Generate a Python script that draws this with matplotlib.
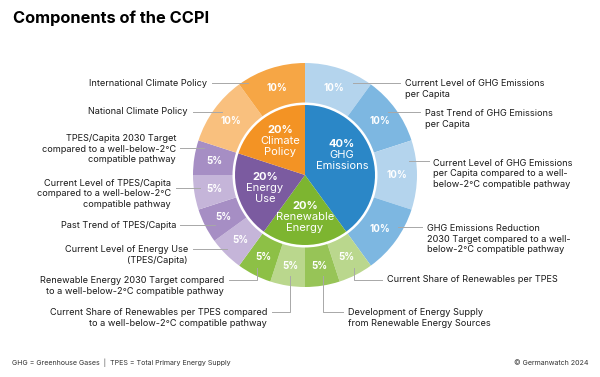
import numpy as np
import matplotlib.pyplot as plt

plt.rcParams['font.family'] = ['Inter', 'DejaVu Sans']

title = 'Components of the CCPI'

categories = ['GHG\nEmissions', 'Renewable\nEnergy', 'Energy\nUse', 'Climate\nPolicy']
category_shares = [40, 20, 20, 20]
category_colors = ['#2B87C7', '#7DB530', '#7B5BA0', '#F39324']

indicators = [
    'Current Level of GHG Emissions\nper Capita',
    'Past Trend of GHG Emissions\nper Capita',
    'Current Level of GHG Emissions\nper Capita compared to a well-\nbelow-2°C compatible pathway',
    'GHG Emissions Reduction\n2030 Target compared to a well-\nbelow-2°C compatible pathway',
    'Current Share of Renewables per TPES',
    'Development of Energy Supply\nfrom Renewable Energy Sources',
    'Current Share of Renewables per TPES compared\nto a well-below-2°C compatible pathway',
    'Renewable Energy 2030 Target compared\nto a well-below-2°C compatible pathway',
    'Current Level of Energy Use\n(TPES/Capita)',
    'Past Trend of TPES/Capita',
    'Current Level of TPES/Capita\ncompared to a well-below-2°C\ncompatible pathway',
    'TPES/Capita 2030 Target\ncompared to a well-below-2°C\ncompatible pathway',
    'National Climate Policy',
    'International Climate Policy',
]
indicator_shares = [10, 10, 10, 10, 5, 5, 5, 5, 5, 5, 5, 5, 10, 10]
indicator_colors = ['#B4D4ED', '#7DB7E1', '#B4D4ED', '#7DB7E1',
                    '#BAD78D', '#97C457', '#BAD78D', '#8DC046',
                    '#C5B5D9', '#A68EC4', '#C5B5D9', '#A68EC4',
                    '#F9C07E', '#F6A645']

footnote = 'GHG = Greenhouse Gases  |  TPES = Total Primary Energy Supply'
credit = '© Germanwatch 2024'

# layout in image pixels (y from top): text x, first line y, alignment, leader polyline
W, H = 600, 377
CX, CY = 305, 175
R_OUT, R_IN = 112, 70
label_layout = [
    (405, 83, 'left', [(353, 83), (400, 83)]),
    (425, 113, 'left', [(388, 112), (420, 112)]),
    (433, 162, 'left', [(409, 161), (429, 161)]),
    (427, 227, 'left', [(398, 227), (422, 227)]),
    (387, 280, 'left', [(354, 268), (354, 280), (382, 280)]),
    (348, 312, 'left', [(323, 276), (323, 312), (343, 312)]),
    (267, 312, 'right', [(290, 276), (290, 312), (272, 312)]),
    (224, 280, 'right', [(257, 268), (257, 280), (229, 280)]),
    (188, 249, 'right', [(227, 249), (193, 249)]),
    (176, 225, 'right', [(215, 225), (180, 225)]),
    (171, 182, 'right', [(200, 188), (176, 188)]),
    (176, 137, 'right', [(204, 148), (180, 148)]),
    (188, 112, 'right', [(222, 112), (193, 112)]),
    (207, 83, 'right', [(248, 83), (212, 83)]),
]


def Y(y):
    return H - y


fig = plt.figure(figsize=(6, 3.77), dpi=100)
ax = fig.add_axes([0, 0, 1, 1])

ax.pie(indicator_shares, colors=indicator_colors, radius=R_OUT, center=(CX, Y(CY)),
       startangle=90, counterclock=False,
       wedgeprops=dict(width=R_OUT - R_IN - 2.5, edgecolor='none'))
ax.pie(category_shares, colors=category_colors, radius=R_IN, center=(CX, Y(CY)),
       startangle=90, counterclock=False,
       wedgeprops=dict(edgecolor='none'))

# percentage labels in outer ring
cum = np.cumsum([0] + indicator_shares)
for i, v in enumerate(indicator_shares):
    mid = np.deg2rad((cum[i] + v / 2) * 3.6)
    r = 92
    ax.text(CX + r * np.sin(mid), Y(CY) + r * np.cos(mid), f'{v}%',
            ha='center', va='center', color='white', fontsize=7, fontweight='bold')

# category labels in inner pie
cum_c = np.cumsum([0] + category_shares)
for i, (name, v) in enumerate(zip(categories, category_shares)):
    mid = np.deg2rad((cum_c[i] + v / 2) * 3.6 - (10 if i == 0 else 0))
    r = 42
    x = CX + r * np.sin(mid)
    y = Y(CY) + r * np.cos(mid)
    ax.text(x, y + 11, f'{v}%', ha='center', va='center', color='white',
            fontsize=8, fontweight='bold')
    ax.text(x, y - 5.5, name, ha='center', va='center', color='white',
            fontsize=8, linespacing=1.15)

# indicator names with leader lines
for name, (tx, ty, ha, pts) in zip(indicators, label_layout):
    n = name.count('\n') + 1
    ax.text(tx, Y(ty + (n - 1) * 6), name, ha=ha, va='center', ma=ha,
            fontsize=6.6, color='#1a1a1a', linespacing=1.25)
    xs = [p[0] for p in pts]
    ys = [Y(p[1]) for p in pts]
    ax.plot(xs, ys, color='#a8a8a8', lw=0.7)

ax.text(13, Y(18), title, ha='left', va='center', fontsize=11.8, fontweight='bold',
        color='black')
ax.text(12, Y(363), footnote, ha='left', va='center', fontsize=5.1, color='#333333')
ax.text(589, Y(363), credit, ha='right', va='center', fontsize=5.1, color='#333333')

ax.set_xlim(0, W)
ax.set_ylim(0, H)
ax.set_aspect('auto')
ax.axis('off')

fig.savefig('out.png', dpi=100)
